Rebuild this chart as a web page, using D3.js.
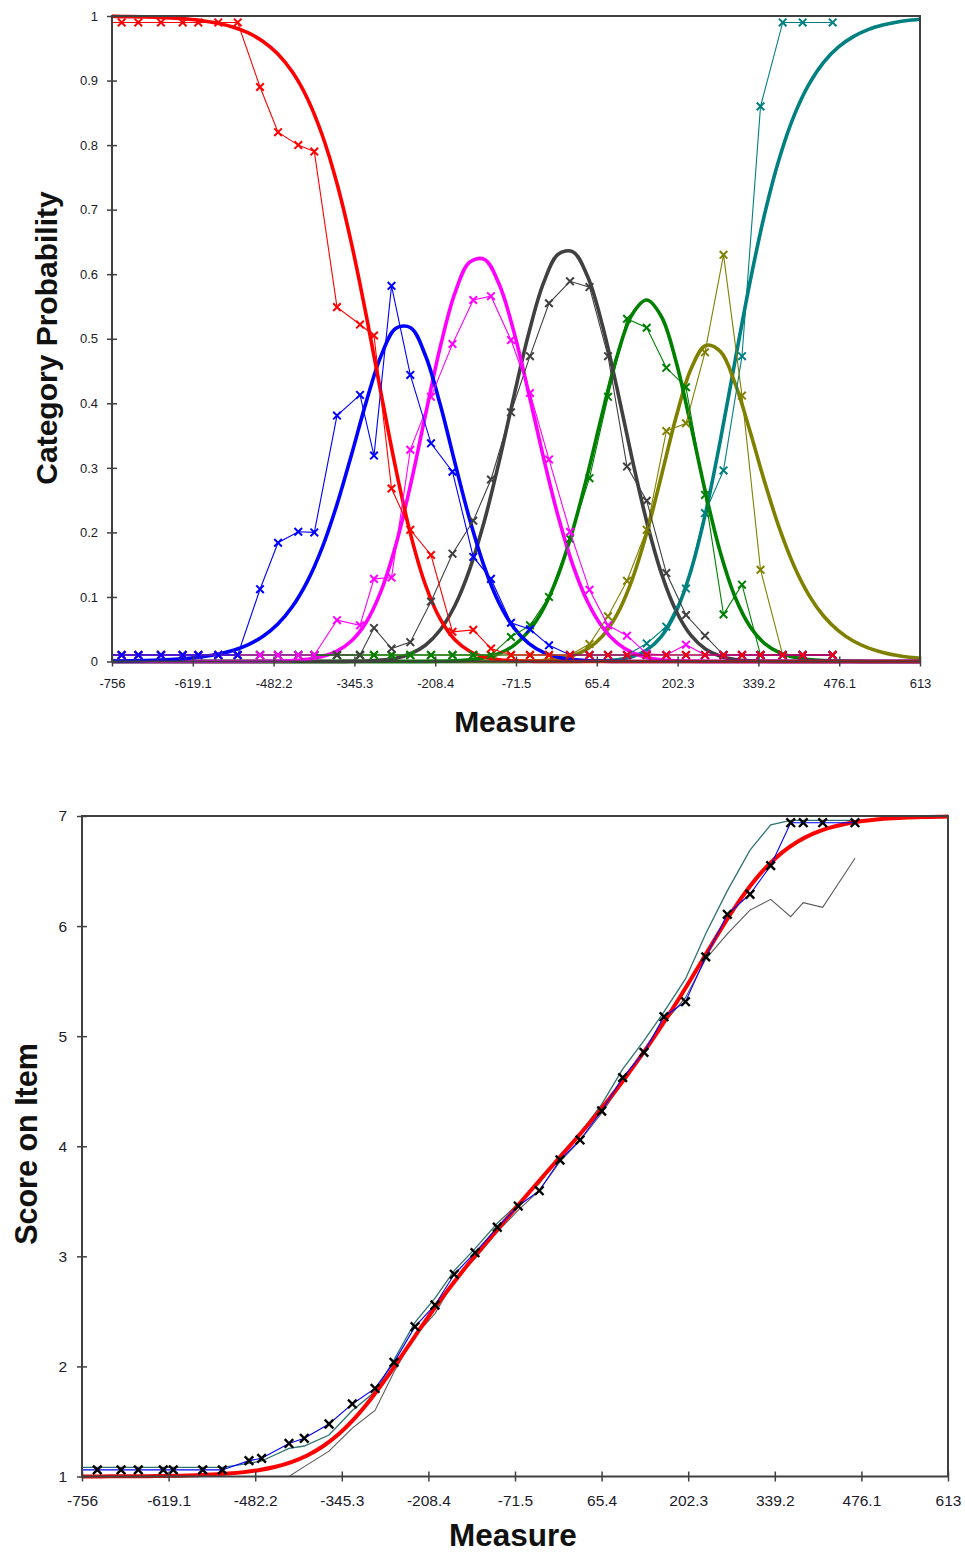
<!DOCTYPE html>
<html><head><meta charset="utf-8">
<script src="https://cdn.jsdelivr.net/npm/d3@7"></script>
<style>
body{margin:0;background:#fff}
svg{display:block}
text{font-family:"Liberation Sans",Arial,sans-serif}
</style>
</head><body>
<svg id="c" width="965" height="1556"></svg>
<script>
// ---------------- DATA ----------------
const xTicks = [-756, -619.1, -482.2, -345.3, -208.4, -71.5, 65.4, 202.3, 339.2, 476.1, 613];
const xTickLabels = ["-756", "-619.1", "-482.2", "-345.3", "-208.4", "-71.5", "65.4", "202.3", "339.2", "476.1", "613"];
const probTicks = [0, 0.1, 0.2, 0.3, 0.4, 0.5, 0.6, 0.7, 0.8, 0.9, 1];
const probTickLabels = ["0", "0.1", "0.2", "0.3", "0.4", "0.5", "0.6", "0.7", "0.8", "0.9", "1"];
const scoreTicks = [1, 2, 3, 4, 5, 6, 7];
const scoreTickLabels = ["1", "2", "3", "4", "5", "6", "7"];

// model curve sample positions (measure)
const modelMeasures = [-756, -750, -725, -700, -675, -650, -625, -600, -575, -550, -525, -500, -475, -450, -425, -400, -375, -350, -325, -300, -275, -250, -225, -200, -175, -150, -125, -100, -75, -50, -25, 0, 25, 50, 75, 100, 125, 150, 175, 200, 225, 250, 275, 300, 325, 350, 375, 400, 425, 450, 475, 500, 525, 550, 575, 600, 613];
const modelCat1 = [1.0, 0.9994, 0.999, 0.9985, 0.9978, 0.9967, 0.9949, 0.9923, 0.9884, 0.9826, 0.9737, 0.9605, 0.9411, 0.9127, 0.8723, 0.816, 0.7412, 0.6465, 0.535, 0.4147, 0.2979, 0.1966, 0.1189, 0.0659, 0.0336, 0.0158, 0.0069, 0.0028, 0.0011, 0.0004, 0.0001, 0, 0, 0, 0, 0, 0, 0, 0, 0, 0, 0, 0, 0, 0, 0, 0, 0, 0, 0, 0, 0, 0, 0, 0, 0, 0];
const modelCat2 = [0.0005, 0.0006, 0.001, 0.0015, 0.0022, 0.0033, 0.0051, 0.0077, 0.0116, 0.0174, 0.0262, 0.0392, 0.0582, 0.0856, 0.1241, 0.176, 0.2427, 0.321, 0.403, 0.4739, 0.5163, 0.517, 0.4741, 0.3984, 0.308, 0.2202, 0.1462, 0.0903, 0.0521, 0.028, 0.014, 0.0066, 0.0029, 0.0012, 0.0004, 0.0002, 0, 0, 0, 0, 0, 0, 0, 0, 0, 0, 0, 0, 0, 0, 0, 0, 0, 0, 0, 0, 0];
const modelCat3 = [0, 0, 0, 0, 0, 0, 0, 0, 0, 0.0001, 0.0001, 0.0003, 0.0007, 0.0016, 0.0036, 0.0077, 0.016, 0.0322, 0.0613, 0.1093, 0.1807, 0.2744, 0.3817, 0.4866, 0.5707, 0.6188, 0.6231, 0.5843, 0.5104, 0.416, 0.3162, 0.2245, 0.1489, 0.0921, 0.0531, 0.0283, 0.014, 0.0063, 0.0026, 0.001, 0.0003, 0.0001, 0, 0, 0, 0, 0, 0, 0, 0, 0, 0, 0, 0, 0, 0, 0];
const modelCat4 = [0, 0, 0, 0, 0, 0, 0, 0, 0, 0, 0, 0, 0, 0, 0, 0, 0.0001, 0.0003, 0.0008, 0.0021, 0.0052, 0.012, 0.0252, 0.0488, 0.0868, 0.1428, 0.218, 0.3101, 0.4112, 0.5081, 0.5861, 0.631, 0.6347, 0.5959, 0.5205, 0.4216, 0.3152, 0.2166, 0.1361, 0.0779, 0.0404, 0.019, 0.0081, 0.0031, 0.0011, 0.0004, 0.0002, 0, 0, 0, 0, 0, 0, 0, 0, 0, 0];
const modelCat5 = [0, 0, 0, 0, 0, 0, 0, 0, 0, 0, 0, 0, 0, 0, 0, 0, 0, 0, 0, 0, 0, 0, 0.0001, 0.0004, 0.001, 0.0025, 0.0058, 0.0124, 0.025, 0.0469, 0.082, 0.1339, 0.2044, 0.2909, 0.3856, 0.4738, 0.5373, 0.56, 0.5341, 0.4636, 0.3649, 0.26, 0.168, 0.0992, 0.0543, 0.0278, 0.0136, 0.0064, 0.003, 0.0013, 0.0006, 0.0003, 0.0001, 0.0001, 0, 0, 0];
const modelCat6 = [0, 0, 0, 0, 0, 0, 0, 0, 0, 0, 0, 0, 0, 0, 0, 0, 0, 0, 0, 0, 0, 0, 0, 0, 0, 0, 0, 0.0001, 0.0002, 0.0006, 0.0016, 0.0039, 0.0091, 0.0196, 0.0393, 0.0733, 0.1261, 0.1993, 0.2882, 0.3796, 0.4532, 0.4896, 0.48, 0.4301, 0.3566, 0.2775, 0.2057, 0.1471, 0.1025, 0.0701, 0.0474, 0.0317, 0.0211, 0.0141, 0.0093, 0.0062, 0.005];
const modelCat7 = [0, 0, 0, 0, 0, 0, 0, 0, 0, 0, 0, 0, 0, 0, 0, 0, 0, 0, 0, 0, 0, 0, 0, 0, 0, 0, 0, 0, 0, 0, 0, 0, 0.0001, 0.0003, 0.001, 0.0028, 0.0074, 0.0178, 0.039, 0.0779, 0.1411, 0.2313, 0.3439, 0.4675, 0.588, 0.6942, 0.7805, 0.8465, 0.8945, 0.9286, 0.952, 0.968, 0.9789, 0.9859, 0.9907, 0.9938, 0.995];

// empirical category frequencies (top chart)
const obsMeasures = [-739.6, -711.4, -673.0, -636.2, -609.8, -575.9, -543.0, -505.2, -474.7, -440.4, -413.2, -374.8, -335.8, -312.1, -282.4, -250.6, -215.5, -179.1, -143.9, -113.9, -80.0, -47.8, -15.6, 20.0, 53.0, 84.4, 116.6, 150.0, 183.2, 216.5, 248.7, 280.1, 311.4, 342.8, 380.4, 414.2, 465.1];
const obsCat1 = [0.99, 0.99, 0.99, 0.99, 0.99, 0.99, 0.99, 0.89, 0.82, 0.80, 0.79, 0.549, 0.522, 0.505, 0.268, 0.204, 0.165, 0.046, 0.049, 0.02, 0.01, 0.01, 0.01, 0.01, 0.01, 0.01, 0.01, 0.01, 0.01, 0.01, 0.01, 0.01, 0.01, 0.01, 0.01, 0.01, 0.01];
const obsCat2 = [0.01, 0.01, 0.01, 0.01, 0.01, 0.01, 0.01, 0.112, 0.184, 0.201, 0.20, 0.381, 0.413, 0.319, 0.582, 0.444, 0.338, 0.294, 0.162, 0.128, 0.06, 0.05, 0.025, 0.01, 0.01, 0.01, 0.01, 0.01, 0.01, 0.01, 0.01, 0.01, 0.01, 0.01, 0.01, 0.01, 0.01];
const obsCat3 = [0.01, 0.01, 0.01, 0.01, 0.01, 0.01, 0.01, 0.01, 0.01, 0.01, 0.01, 0.064, 0.056, 0.128, 0.13, 0.328, 0.41, 0.492, 0.56, 0.566, 0.498, 0.416, 0.313, 0.201, 0.111, 0.056, 0.04, 0.012, 0.01, 0.026, 0.01, 0.01, 0.01, 0.01, 0.01, 0.01, 0.01];
const obsCat4 = [0.01, 0.01, 0.01, 0.01, 0.01, 0.01, 0.01, 0.01, 0.01, 0.01, 0.01, 0.01, 0.01, 0.052, 0.02, 0.03, 0.093, 0.167, 0.218, 0.282, 0.386, 0.473, 0.555, 0.589, 0.58, 0.473, 0.302, 0.249, 0.137, 0.072, 0.04, 0.01, 0.01, 0.01, 0.01, 0.01, 0.01];
const obsCat5 = [0.01, 0.01, 0.01, 0.01, 0.01, 0.01, 0.01, 0.01, 0.01, 0.01, 0.01, 0.01, 0.01, 0.01, 0.01, 0.01, 0.01, 0.01, 0.01, 0.01, 0.038, 0.056, 0.10, 0.19, 0.284, 0.41, 0.531, 0.517, 0.455, 0.425, 0.258, 0.073, 0.119, 0.01, 0.01, 0.01, 0.01];
const obsCat6 = [0.01, 0.01, 0.01, 0.01, 0.01, 0.01, 0.01, 0.01, 0.01, 0.01, 0.01, 0.01, 0.01, 0.01, 0.01, 0.01, 0.01, 0.01, 0.01, 0.01, 0.01, 0.01, 0.01, 0.01, 0.027, 0.07, 0.125, 0.204, 0.357, 0.369, 0.479, 0.63, 0.412, 0.142, 0.01, 0.01, 0.01];
const obsCat7 = [0.01, 0.01, 0.01, 0.01, 0.01, 0.01, 0.01, 0.01, 0.01, 0.01, 0.01, 0.01, 0.01, 0.01, 0.01, 0.01, 0.01, 0.01, 0.01, 0.01, 0.01, 0.01, 0.01, 0.01, 0.01, 0.01, 0.01, 0.028, 0.054, 0.113, 0.23, 0.296, 0.473, 0.86, 0.99, 0.99, 0.99];
const catColors = ["#ff0000", "#0000ff", "#ff00ff", "#404040", "#008000", "#808000", "#008080"];

// bottom chart: expected score (model, same sample positions) and empirical
const modelScore = [1.0005, 1.0006, 1.001, 1.0015, 1.0022, 1.0033, 1.0051, 1.0077, 1.0116, 1.0176, 1.0264, 1.0398, 1.0596, 1.0888, 1.1313, 1.1914, 1.275, 1.386, 1.528, 1.6988, 1.8933, 2.102, 2.3135, 2.5196, 2.7118, 2.8962, 3.0696, 3.2393, 3.4075, 3.5749, 3.7407, 3.9039, 4.0685, 4.2365, 4.413, 4.6001, 4.7977, 5.0057, 5.2249, 5.4555, 5.694, 5.933, 6.1597, 6.3616, 6.5315, 6.6651, 6.7665, 6.8401, 6.8915, 6.927, 6.9514, 6.9677, 6.9789, 6.9859, 6.9907, 6.9938, 6.995];
const scoreMeasures = [-731.8, -694.3, -667.0, -627.5, -611.7, -565.2, -534.2, -492.0, -472.0, -428.8, -404.6, -365.5, -328.7, -292.8, -262.8, -229.6, -198.0, -167.5, -134.7, -99.5, -66.3, -33.1, -0.4, 31.3, 65.5, 98.7, 132.4, 164.0, 198.0, 230.0, 264.1, 300.0, 332.7, 364.3, 384.2, 414.9, 466.0];
const observedScore = [1.06, 1.06, 1.06, 1.06, 1.06, 1.06, 1.06, 1.144, 1.165, 1.30, 1.347, 1.477, 1.659, 1.80, 2.037, 2.361, 2.558, 2.837, 3.033, 3.264, 3.457, 3.596, 3.875, 4.057, 4.32, 4.623, 4.853, 5.177, 5.313, 5.72, 6.107, 6.289, 6.549, 6.939, 6.939, 6.939, 6.939];
const upperScore = [1.083, 1.083, 1.083, 1.083, 1.083, 1.083, 1.083, 1.12, 1.141, 1.256, 1.277, 1.377, 1.60, 1.77, 2.06, 2.40, 2.62, 2.87, 3.07, 3.30, 3.48, 3.66, 3.92, 4.12, 4.38, 4.70, 4.96, 5.22, 5.52, 5.93, 6.32, 6.69, 6.92, 6.96, 6.96, 6.96, 6.96];
const lowerScore = [1.0, 1.0, 1.0, 1.0, 1.0, 1.0, 1.0, 1.0, 1.0, 1.0, 1.09, 1.23, 1.44, 1.60, 1.95, 2.28, 2.48, 2.78, 2.98, 3.22, 3.42, 3.60, 3.86, 4.05, 4.30, 4.58, 4.85, 5.12, 5.35, 5.70, 5.93, 6.145, 6.243, 6.085, 6.213, 6.17, 6.616];

// ---------------- DRAWING ----------------
const svg = d3.select("#c");
const AX = "#404040";
const LBL = "#1a1a2a";

function xMark(g, cx, cy, r, color, sw) {
  g.append("path")
    .attr("d", `M${cx - r},${cy - r}L${cx + r},${cy + r}M${cx - r},${cy + r}L${cx + r},${cy - r}`)
    .attr("stroke", color).attr("stroke-width", sw).attr("fill", "none");
}

function frame(g, x, y, yTicks, yLabels, fsTick, xLabelOffset, yLabelGap) {
  const [x0, x1] = x.range();
  const [yb, yt] = y.range();
  const xa = g.append("g").attr("transform", `translate(0,${yb})`)
    .call(d3.axisBottom(x).tickValues(xTicks).tickFormat((d, i) => xTickLabels[i]).tickSize(5).tickPadding(xLabelOffset));
  xa.select(".domain").remove();
  xa.selectAll(".tick line").attr("y1", -5).attr("y2", 5).attr("stroke", AX).attr("stroke-width", 1.5);
  xa.selectAll(".tick text").attr("font-size", fsTick).attr("fill", LBL).attr("font-family", "Liberation Sans, Arial, sans-serif");
  const ya = g.append("g").attr("transform", `translate(${x0},0)`)
    .call(d3.axisLeft(y).tickValues(yTicks).tickFormat((d, i) => yLabels[i]).tickSize(5).tickPadding(yLabelGap));
  ya.select(".domain").remove();
  ya.selectAll(".tick line").attr("x1", -5).attr("x2", 5).attr("stroke", AX).attr("stroke-width", 1.5);
  ya.selectAll(".tick text").attr("font-size", fsTick).attr("fill", LBL).attr("font-family", "Liberation Sans, Arial, sans-serif");
  g.append("path").attr("d", `M${x0},${yb}L${x0},${yt}L${x1},${yt}L${x1},${yb}Z`)
    .attr("fill", "none").attr("stroke", AX).attr("stroke-width", 2);
}

// ===== Top chart =====
const xT = d3.scaleLinear().domain([-756, 613]).range([112, 920]);
const yT = d3.scaleLinear().domain([0, 1]).range([661.5, 16]);
const gT = svg.append("g");

const modelCats = [modelCat1, modelCat2, modelCat3, modelCat4, modelCat5, modelCat6, modelCat7];
const obsCats = [obsCat1, obsCat2, obsCat3, obsCat4, obsCat5, obsCat6, obsCat7];

const lineModelT = d3.line().x(d => xT(d[0])).y(d => yT(d[1])).curve(d3.curveCatmullRom.alpha(0.5));
const lineObsT = d3.line().x(d => xT(d[0])).y(d => yT(d[1]));

const plotT = gT.append("g");
for (let k = 6; k >= 0; k--) {
  plotT.append("path").datum(modelMeasures.map((m, i) => [m, modelCats[k][i]]))
    .attr("d", lineModelT).attr("fill", "none").attr("stroke", catColors[k]).attr("stroke-width", 3.6);
}
for (let k = 6; k >= 0; k--) {
  const pts = obsMeasures.map((m, i) => [m, obsCats[k][i]]);
  const lpts = [[-756, obsCats[k][0]]].concat(pts);
  plotT.append("path").datum(lpts).attr("d", lineObsT).attr("fill", "none")
    .attr("stroke", catColors[k]).attr("stroke-width", 1.1);
  pts.forEach(p => xMark(plotT, xT(p[0]), yT(p[1]), 3.8, catColors[k], 2));
}
frame(gT, xT, yT, probTicks, probTickLabels, 13, 12, 9);

gT.append("text").attr("x", 515).attr("y", 732).attr("text-anchor", "middle")
  .attr("font-size", 30).attr("font-weight", "bold").attr("fill", "#111").text("Measure");
gT.append("text").attr("transform", "translate(57,338) rotate(-90)").attr("text-anchor", "middle")
  .attr("font-size", 30).attr("font-weight", "bold").attr("fill", "#111").text("Category Probability");

// ===== Bottom chart =====
const xB = d3.scaleLinear().domain([-756, 613]).range([82, 948]);
const yB = d3.scaleLinear().domain([1, 7]).range([1476.5, 816]);
const gB = svg.append("g");
const lineB = d3.line().x(d => xB(d[0])).y(d => yB(d[1]));
const lineModelB = d3.line().x(d => xB(d[0])).y(d => yB(d[1])).curve(d3.curveCatmullRom.alpha(0.5));

function thin(arr, color, w) {
  const pts = [[-756, arr[0]]].concat(scoreMeasures.map((m, i) => [m, arr[i]]));
  gB.append("path").datum(pts).attr("d", lineB).attr("fill", "none").attr("stroke", color).attr("stroke-width", w);
}
thin(lowerScore, "#5a5a5a", 1.1);
thin(upperScore, "#2f7272", 1.3);
gB.append("path").datum(modelMeasures.map((m, i) => [m, modelScore[i]]))
  .attr("d", lineModelB).attr("fill", "none").attr("stroke", "#ff0000").attr("stroke-width", 4);
thin(observedScore, "#0000ff", 1.1);
scoreMeasures.forEach((m, i) => xMark(gB, xB(m), yB(observedScore[i]), 4.3, "#000", 2.4));

frame(gB, xB, yB, scoreTicks, scoreTickLabels, 15.5, 13, 10);

gB.append("text").attr("x", 513).attr("y", 1546).attr("text-anchor", "middle")
  .attr("font-size", 31.5).attr("font-weight", "bold").attr("fill", "#111").text("Measure");
gB.append("text").attr("transform", "translate(37,1144) rotate(-90)").attr("text-anchor", "middle")
  .attr("font-size", 30.5).attr("font-weight", "bold").attr("fill", "#111").text("Score on Item");
</script>
</body></html>
